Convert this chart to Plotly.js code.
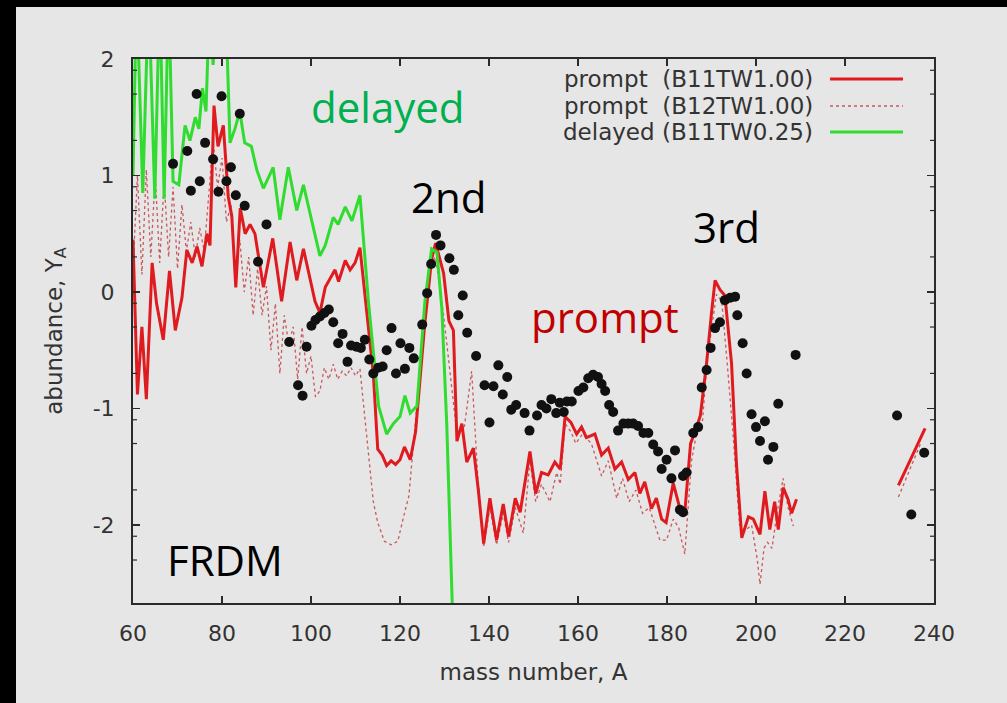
<!DOCTYPE html>
<html>
<head>
<meta charset="utf-8">
<script src="https://cdn.plot.ly/plotly-3.0.1.min.js"></script>
<style>
  html, body { margin: 0; padding: 0; background: #000; }
  #chart { position: absolute; left: 16px; top: 7px; width: 991px; height: 696px; }
</style>
</head>
<body>
<div id="chart"></div>
<script>
// Prompt r-process abundances, model B11TW1.00 (solid red)
const massB11 = [60.0, 61.0, 62.0, 63.0, 64.3, 65.3, 66.8, 68.2, 69.5, 71.0, 72.1, 73.3, 74.4, 75.5, 76.6, 77.3,
  78.2, 79.1, 80.3, 81.4, 82.2, 83.1, 84.1, 85.2, 86.3, 87.4, 89.3, 91.4, 93.4, 95.3, 96.8, 98.3, 100.9,
  102.0, 103.2, 105.4, 106.2, 107.7, 108.8, 109.9, 111.0, 112.0, 113.0, 114.0, 115.0, 116.0, 117.0, 118.0,
  119.0, 120.0, 121.0, 122.3, 123.5, 124.5, 125.5, 127.1, 128.0, 129.8, 131.0, 132.0, 132.8, 133.9, 135.0,
  136.5, 137.6, 138.8, 140.2, 141.7, 143.2, 144.4, 145.9, 147.0, 149.2, 150.5, 151.8, 153.3, 154.8, 156.0,
  157.1, 158.4, 159.7, 160.8, 161.9, 163.8, 165.3, 166.8, 168.3, 169.8, 171.3, 172.8, 173.9, 175.0, 176.5,
  177.6, 178.8, 179.8, 181.4, 182.9, 184.0, 185.3, 186.5, 187.5, 188.9, 190.0, 190.8, 191.9, 193.0, 194.5,
  195.6, 196.8, 198.3, 199.4, 200.9, 202.0, 203.1, 204.2, 205.0, 206.1, 207.2, 208.0, 209.1,
  null, 232.0, 238.0];
const yieldB11 = [0.45, -0.88, -0.30, -0.92, 0.25, -0.10, -0.41, 0.18, -0.33, -0.05, 0.36, 0.25, 0.39, 0.22, 0.50, 0.40,
  1.60, 1.25, 1.43, 0.82, 0.65, 0.04, 0.72, 0.50, 0.58, 0.50, 0.04, 0.46, -0.08, 0.43, 0.10, 0.37, -0.08,
  -0.18, 0.04, 0.19, 0.09, 0.27, 0.19, 0.25, 0.38, 0.00, -0.35, -0.70, -1.35, -1.40, -1.49, -1.45,
  -1.48, -1.44, -1.33, -1.44, -1.20, -0.75, -0.30, 0.28, 0.42, 0.16, -0.25, -0.33, -1.28, -1.13, -1.46,
  -1.34, -1.70, -2.16, -1.77, -2.13, -1.82, -2.10, -1.77, -1.89, -1.37, -1.73, -1.55, -1.57, -1.46, -1.52,
  -1.07, -1.12, -1.22, -1.16, -1.25, -1.22, -1.40, -1.34, -1.52, -1.46, -1.61, -1.55, -1.73, -1.63, -1.86,
  -1.77, -1.95, -1.98, -1.64, -1.86, -1.89, -1.30, -1.18, -1.06, -0.61, -0.18, 0.10, 0.02, -0.03, -0.61,
  -1.47, -2.11, -1.93, -1.95, -2.08, -1.71, -2.04, -1.80, -2.04, -1.68, -1.78, -1.90, -1.78,
  null, -1.66, -1.17];

// Prompt r-process abundances, model B12TW1.00 (dotted red)
const massB12 = [60, 61, 62, 63, 64, 65, 66, 67, 68, 69, 70, 71, 72, 73, 74, 75, 76, 77, 78, 79, 80, 81, 82, 83,
  84, 85, 86, 87, 88, 89, 90, 91, 92, 93, 94, 95, 96, 97, 98, 99, 100, 101, 102, 103, 104, 105, 106, 107,
  108, 109, 110, 111, 112.5, 114.0, 115.0, 116.5, 118.0, 119.5, 121.0, 122.0, 123.5, 125.0, 127.0, 128.0,
  129.8, 131.0, 132.8, 134.5, 136.1, 137.5, 138.8, 140.2, 141.7, 143.2, 144.4, 145.9, 147.7, 149.2, 150.5,
  151.8, 153.7, 155.2, 156.0, 157.1, 158.4, 159.5, 161.0, 163.0, 165.3, 166.8, 168.7, 170.0, 171.5, 173.0,
  174.5, 176.0, 178.4, 179.9, 181.4, 182.6, 184.0, 185.5, 186.7, 188.0, 189.0, 191.1, 192.3, 193.5, 194.8,
  196.3, 197.5, 199.0, 200.3, 200.9, 201.8, 202.6, 203.6, 204.7, 206.1, 207.2, 208.4,
  null, 232.0, 237.0];
const yieldB12 = [0.20, 1.00, 0.15, 1.05, 0.30, 1.00, 0.25, 0.95, 0.30, 0.90, 0.20, 0.75, 0.35, 0.60, 0.30, 0.55, 0.35,
  0.85, 1.30, 0.90, 1.15, 0.60, 0.75, 0.15, 0.45, 0.00, 0.30, -0.20, 0.20, -0.20, 0.05, -0.50, -0.10, -0.70,
  -0.20, -0.45, -0.30, -0.75, -0.30, -0.70, -0.55, -0.90, -0.85, -0.65, -0.75, -0.62, -0.75, -0.68,
  -0.72, -0.65, -0.72, -0.66, -1.20, -1.80, -1.98, -2.14, -2.17, -2.14, -1.90, -1.75, -1.10, -0.40, 0.25, 0.30,
  -0.20, -0.60, -1.22, -1.15, -0.68, -1.60, -2.19, -1.85, -2.17, -1.90, -2.15, -1.85, -2.07, -1.45, -1.80,
  -1.65, -1.80, -1.55, -1.65, -1.13, -1.20, -1.30, -1.22, -1.30, -1.58, -1.45, -1.77, -1.60, -1.80, -1.70,
  -1.90, -1.85, -2.13, -2.13, -1.95, -2.02, -2.25, -1.45, -1.20, -1.10, -0.60, -0.02, -0.08, -0.60, -1.20,
  -2.00, -2.05, -2.00, -2.30, -2.51, -2.20, -2.15, -2.20, -1.90, -1.60, -1.85, -2.01,
  null, -1.76, -1.30];

// Delayed (disk wind) abundances, model B11TW0.25 (green)
const massDelayed = [60.0, 60.8, 62.2, 63.5, 64.9, 66.0, 67.0, 68.0, 69.0, 70.3, 71.7, 72.8, 74.0, 74.8, 75.6, 76.4,
  77.2, 78.0, 78.9, 79.8, 80.8, 81.8, 82.9, 84.0, 85.1, 86.6, 87.8, 89.3, 91.5, 93.0, 94.9, 96.8, 98.3,
  100.1, 102.0, 103.2, 105.0, 106.1, 107.7, 109.2, 111.0, 112.9, 115.2, 117.0, 118.5, 120.0, 121.1, 122.3,
  123.8, 125.6, 127.1, 128.3, 129.4, 130.5, 132.0];
const yieldDelayed = [1.00, 2.60, 0.85, 2.60, 0.80, 2.60, 0.80, 2.60, 0.95, 0.92, 1.43, 1.30, 1.50, 1.40, 1.75, 1.55,
  2.50, 1.95, 2.50, 2.10, 2.50, 1.28, 1.40, 1.55, 1.28, 1.25, 1.05, 0.89, 1.07, 0.62, 1.07, 0.70, 0.92,
  0.61, 0.31, 0.40, 0.64, 0.58, 0.73, 0.61, 0.83, -0.08, -0.98, -1.22, -1.13, -1.07, -0.89, -1.04,
  -0.98, -0.08, 0.37, 0.34, -0.14, -1.13, -3.00];

// Solar r-process residuals (black points)
const massSolar = [69.0, 72.2, 73.0, 74.3, 75.0, 76.2, 78.0, 79.2, 79.9, 81.0, 82.0, 83.1, 84.0, 85.1, 88.1, 90.0,
  95.1, 97.1, 98.1, 99.0, 100.1, 101.0, 102.0, 103.0, 104.0, 105.0, 106.1, 107.1, 108.2, 109.0, 110.2, 111.2,
  112.1, 113.1, 114.0, 115.1, 116.1, 117.0, 118.1, 119.1, 120.1, 121.1, 122.1, 123.1, 125.0, 126.1, 127.0,
  128.1, 129.1, 131.1, 132.1, 133.1, 134.1, 135.1, 137.1, 139.0, 140.1, 141.0, 142.1, 143.1, 144.1, 145.0,
  146.1, 148.0, 149.1, 150.8, 151.8, 152.9, 154.0, 155.1, 155.9, 156.8, 157.5, 158.6, 160.1, 161.2, 162.3,
  163.4, 164.5, 165.3, 166.1, 167.0, 167.9, 169.0, 170.2, 171.3, 172.4, 173.5, 174.7, 175.8, 176.9, 178.0,
  178.8, 179.9, 181.0, 181.8, 182.9, 183.6, 183.6, 184.4, 185.9, 187.0, 187.8, 188.9, 189.8, 190.8, 191.9,
  193.0, 194.2, 195.3, 195.8, 197.0, 197.9, 199.0, 200.0, 200.9, 202.0, 202.7, 203.9, 205.0, 208.9,
  231.7, 234.9, 237.8];
const yieldSolar = [1.10, 1.21, 0.87, 1.70, 0.95, 1.28, 1.14, 0.86, 1.68, 0.95, 1.07, 0.83, 1.53, 0.74, 0.26, 0.58,
  -0.43, -0.80, -0.89, -0.47, -0.29, -0.24, -0.21, -0.18, -0.15, -0.26, -0.44, -0.36, -0.60, -0.46, -0.47, -0.48,
  -0.41, -0.58, -0.70, -0.65, -0.64, -0.50, -0.31, -0.70, -0.44, -0.66, -0.48, -0.57, -0.28, -0.01, 0.24,
  0.49, 0.40, 0.29, 0.19, -0.20, -0.03, -0.35, -0.55, -0.80, -1.12, -0.81, -0.63, -0.88, -0.73, -1.01,
  -0.97, -1.04, -1.19, -1.06, -0.97, -1.00, -0.92, -1.04, -0.95, -1.03, -0.94, -0.94, -0.85, -0.82, -0.74,
  -0.71, -0.73, -0.79, -0.85, -0.97, -1.03, -1.19, -1.13, -1.13, -1.13, -1.15, -1.21, -1.21, -1.31, -1.37,
  -1.52, -1.44, -1.60, -1.36, -1.87, -1.89, -1.58, -1.55, -1.21, -1.16, -0.82, -0.67, -0.48, -0.31, -0.26,
  -0.07, -0.05, -0.04, -0.20, -0.44, -0.70, -1.05, -1.16, -1.28, -1.11, -1.44, -1.33, -0.96, -0.54,
  -1.06, -1.91, -1.38];

// Axis ticks
const xTicks = [60, 80, 100, 120, 140, 160, 180, 200, 220, 240];
const yTicks = [-2, -1, 0, 1, 2];
const yTickText = ['-2', '-1', '0', '1', '2'];
const minorMantissas = [2, 5, 8];

// Legend entries and in-plot labels
const legendLabels = ['prompt\u00a0\u00a0(B11TW1.00)', 'prompt\u00a0\u00a0(B12TW1.00)', 'delayed\u00a0(B11TW0.25)'];
const tagText = ['delayed', '2nd', '3rd', 'prompt', 'FRDM'];

const RED = '#e01b1f';
const DOT_RED = '#c8585c';
const GREEN = '#2fdc2f';
const BG = '#e6e6e6';
const AXIS = '#2a2a2a';
const TEXT = '#333333';
const LABEL_FONT = 'DejaVu Sans, Liberation Sans, sans-serif';
const TAG_FONT = 'Open Sans, Noto Sans, sans-serif';

const PLOT_W = 801;   // plot-area width in px, used to size the minor tick marks
const Y_RANGE = [-2.67, 2];

// log-decade minor ticks on the abundance axis (drawn on both frame sides)
const yMinor = [];
for (let d = -3; d <= 1; d++) {
  minorMantissas.forEach(m => {
    const v = d + Math.log10(m);
    if (v > Y_RANGE[0] && v < Y_RANGE[1]) yMinor.push(v);
  });
}

const traces = [
  { x: massB12, y: yieldB12, mode: 'lines', name: 'B12TW1.00',
    line: { color: DOT_RED, width: 1.3, dash: 'dot' }, showlegend: false, hoverinfo: 'skip' },
  { x: massB11, y: yieldB11, mode: 'lines', name: 'B11TW1.00',
    line: { color: RED, width: 3 }, showlegend: false, hoverinfo: 'skip' },
  { x: massDelayed, y: yieldDelayed, mode: 'lines', name: 'B11TW0.25',
    line: { color: GREEN, width: 3 }, showlegend: false, hoverinfo: 'skip' },
  { x: massSolar, y: yieldSolar, mode: 'markers', name: 'solar',
    marker: { color: '#111111', size: 10 }, showlegend: false, hoverinfo: 'skip', cliponaxis: true }
];

// legend rows: text right-aligned, key line to the right
const legendStyles = [
  { color: RED, width: 3, dash: 'solid' },
  { color: DOT_RED, width: 1.5, dash: 'dot' },
  { color: GREEN, width: 3, dash: 'solid' }
];
const legendRowY = [0.9632, 0.9136, 0.8658];

const annotations = legendLabels.map((t, i) => ({
  text: t, xref: 'paper', yref: 'paper', x: 0.8514, y: legendRowY[i],
  xanchor: 'right', yanchor: 'middle', showarrow: false,
  font: { family: LABEL_FONT, size: 23, color: TEXT }
}));
const shapes = legendStyles.map((s, i) => ({
  type: 'line', xref: 'paper', yref: 'paper', x0: 0.8702, x1: 0.9613, y0: legendRowY[i], y1: legendRowY[i],
  line: s
}));
const minorLen = 4 / PLOT_W;
yMinor.forEach(v => {
  shapes.push({ type: 'line', xref: 'paper', yref: 'y', x0: 0, x1: minorLen, y0: v, y1: v,
    line: { color: AXIS, width: 1.2 } });
  shapes.push({ type: 'line', xref: 'paper', yref: 'y', x0: 1 - minorLen, x1: 1, y0: v, y1: v,
    line: { color: AXIS, width: 1.2 } });
});

const tagPos = [
  { x: 117.3, y: 1.59, color: '#00b050' },
  { x: 130.8, y: 0.82, color: '#000000' },
  { x: 193.3, y: 0.56, color: '#000000' },
  { x: 166.1, y: -0.21, color: '#c00000' },
  { x: 80.7, y: -2.30, color: '#000000' }
];
tagText.forEach((t, i) => annotations.push({
  text: t, xref: 'x', yref: 'y', x: tagPos[i].x, y: tagPos[i].y,
  xanchor: 'center', yanchor: 'middle', showarrow: false,
  font: { family: TAG_FONT, size: 42, color: tagPos[i].color }
}));

const layout = {
  width: 991, height: 696,
  margin: { l: 117, r: 73, t: 52, b: 100 },
  paper_bgcolor: BG, plot_bgcolor: BG,
  showlegend: false,
  font: { family: LABEL_FONT, size: 22, color: TEXT },
  xaxis: {
    range: [60, 240], tickmode: 'array', tickvals: xTicks,
    ticks: 'inside', ticklen: 7, tickwidth: 1.5, tickcolor: AXIS,
    showline: true, linecolor: AXIS, linewidth: 2, mirror: 'ticks',
    showgrid: false, zeroline: false, ticklabelstandoff: 10,
    tickfont: { family: LABEL_FONT, size: 22, color: TEXT },
    title: { text: 'mass number, A', font: { family: LABEL_FONT, size: 23, color: TEXT }, standoff: 18 },
    automargin: false
  },
  yaxis: {
    range: Y_RANGE, tickmode: 'array', tickvals: yTicks, ticktext: yTickText,
    ticks: 'inside', ticklen: 7, tickwidth: 1.5, tickcolor: AXIS,
    showline: true, linecolor: AXIS, linewidth: 2, mirror: 'ticks',
    showgrid: false, zeroline: false, ticklabelstandoff: 12,
    tickfont: { family: LABEL_FONT, size: 22, color: TEXT },
    title: { text: 'abundance, Y<sub>A</sub>', font: { family: LABEL_FONT, size: 23, color: TEXT }, standoff: 24 },
    automargin: false
  },
  annotations: annotations,
  shapes: shapes
};

Plotly.newPlot('chart', traces, layout, { displayModeBar: false, staticPlot: true });
</script>
</body>
</html>
